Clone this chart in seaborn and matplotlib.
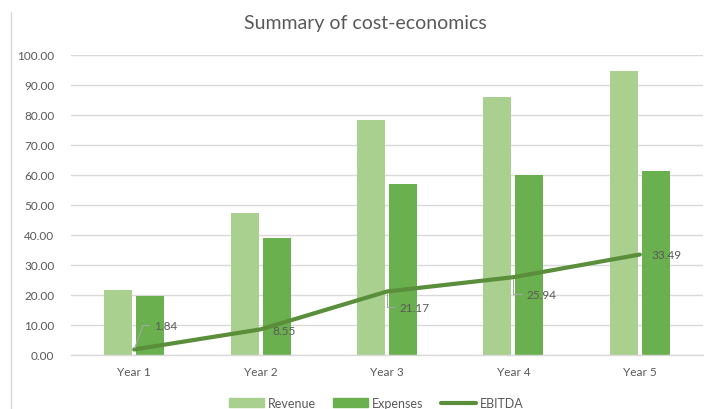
import matplotlib
matplotlib.use("Agg")
import matplotlib.pyplot as plt
import matplotlib.lines as mlines
import matplotlib.patches as mpatches
import seaborn as sns
import pandas as pd

years = ["Year 1", "Year 2", "Year 3", "Year 4", "Year 5"]
revenue = [21.60, 47.40, 78.20, 86.10, 94.70]
expenses = [19.76, 38.85, 57.03, 60.16, 61.21]
ebitda = [1.84, 8.55, 21.17, 25.94, 33.49]
y_ticks = [0, 10, 20, 30, 40, 50, 60, 70, 80, 90, 100]

sns.set_theme(style="white")
plt.rcParams["font.family"] = ["Lato", "DejaVu Sans"]

W, H = 707, 410
fig = plt.figure(figsize=(W / 100, H / 100), dpi=100)
ax = fig.add_axes([71 / W, (H - 356) / H, (703 - 71) / W, 300 / H])

bars = pd.DataFrame({
    "Year": years * 2,
    "Value": revenue + expenses,
    "Series": ["Revenue"] * 5 + ["Expenses"] * 5,
})
c_rev, c_exp, c_line = "#A9D08E", "#6AB04F", "#5A8E3A"
sns.barplot(data=bars, x="Year", y="Value", hue="Series",
            palette=[c_rev, c_exp], width=0.506, gap=0.125,
            legend=False, ax=ax, saturation=1, linewidth=0)
line_df = pd.DataFrame({"Year": years, "EBITDA": ebitda})
sns.lineplot(data=line_df, x="Year", y="EBITDA", color=c_line, linewidth=3,
             ax=ax, sort=False, zorder=5)

ax.set_xlim(-0.5, 4.5)
ax.set_ylim(0, 100)
ax.set_yticks(y_ticks)
ax.set_yticklabels([f"{v:.2f}" for v in y_ticks])
ax.yaxis.grid(True, color="#D9D9D9", linewidth=1)
ax.set_axisbelow(True)
for s in ["top", "right", "left"]:
    ax.spines[s].set_visible(False)
ax.spines["bottom"].set_color("#D9D9D9")
ax.spines["bottom"].set_linewidth(1)
ax.set_xlabel("")
ax.set_ylabel("")
ax.tick_params(axis="both", length=0, labelsize=8.5, labelcolor="#595959")
ax.tick_params(axis="y", pad=12)
ax.tick_params(axis="x", pad=8)

# data labels (offsets in pixels)
offsets = [(20, 24), (12, -1), (13, -16), (13, -17), (12, 0)]
conns = ["angle,angleA=0,angleB=70,rad=0", None,
         "angle,angleA=0,angleB=90,rad=0", "angle,angleA=0,angleB=90,rad=0", None]
for i, v in enumerate(ebitda):
    ap = None
    if conns[i]:
        ap = dict(arrowstyle="-", color="#A6A6A6", lw=0.8,
                  connectionstyle=conns[i], shrinkA=1, shrinkB=1)
    ax.annotate(f"{v:.2f}", xy=(i, v), xytext=offsets[i], textcoords="offset pixels",
                ha="left", va="center", fontsize=8.5, color="#595959",
                arrowprops=ap, zorder=6)

fig.text(365 / W, 1 - 23 / H, "Summary of cost-economics", ha="center", va="center",
         fontsize=14, color="#595959")

handles = [mpatches.Patch(color=c_rev, label="Revenue"),
           mpatches.Patch(color=c_exp, label="Expenses"),
           mlines.Line2D([], [], color=c_line, linewidth=3, label="EBITDA")]
fig.legend(handles=handles, loc="center", bbox_to_anchor=(376 / W, 1 - 404 / H),
           ncol=3, frameon=False, fontsize=9, labelcolor="#595959",
           handlelength=2.8, handleheight=0.7, columnspacing=1.4, handletextpad=0.3)

fig.add_artist(mlines.Line2D([11 / W, 11 / W], [0, 1 - 13 / H], color="#D9D9D9",
                             linewidth=1, transform=fig.transFigure))

fig.savefig("out.png", dpi=100)
